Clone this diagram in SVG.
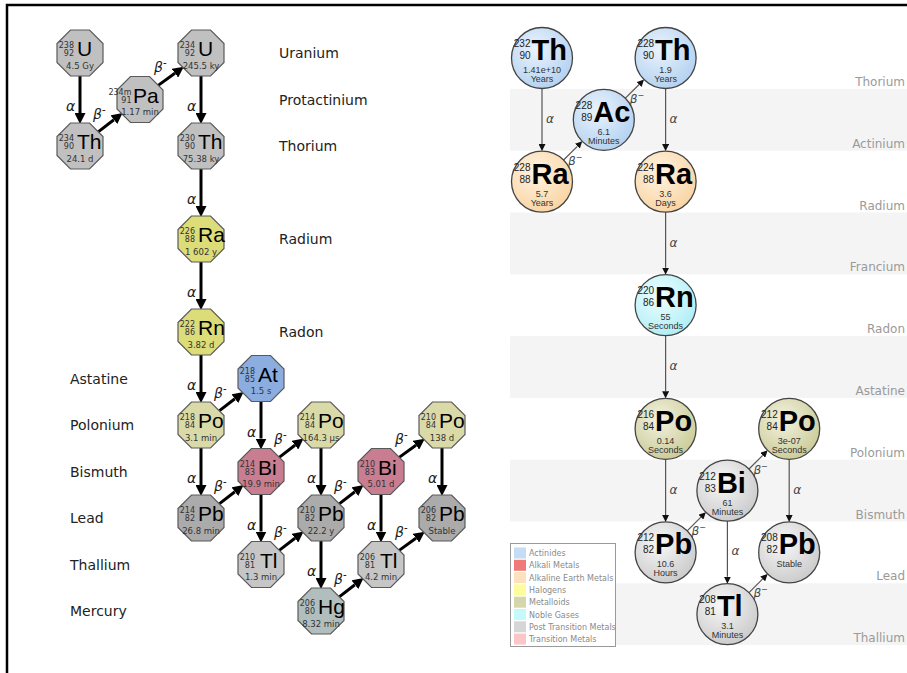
<svg xmlns="http://www.w3.org/2000/svg" width="907" height="673" viewBox="0 0 907 673">
<style>
.o{stroke:#5a5a5a;stroke-width:1.2}
.gy{fill:#c0c0c0}.pb{fill:#ababab}.tl{fill:#c6c6c6}.ye{fill:#dcdc78}.kh{fill:#dadaa8}.bl{fill:#8cade0}.pk{fill:#c97d91}.hg{fill:#b2bebe}
.num{font-family:"DejaVu Sans",sans-serif;font-size:8px;fill:#333;text-anchor:end}
.sym{font-family:"Liberation Sans",sans-serif;font-size:21px;fill:#000}
.hl{font-family:"DejaVu Sans",sans-serif;font-size:8.5px;fill:#333;text-anchor:middle}
.lab{font-family:"DejaVu Sans",sans-serif;font-size:14px;fill:#222}
.al{font-family:"DejaVu Sans",sans-serif;font-size:14px;font-style:italic;fill:#222}
.la{stroke:#000;stroke-width:3;fill:none}
.c{stroke:#444;stroke-width:1.3}
.rn{font-family:"Liberation Sans",sans-serif;font-size:10px;fill:#222;text-anchor:end}
.rs{font-family:"Liberation Sans",sans-serif;font-size:29px;font-weight:bold;fill:#000}
.rh{font-family:"Liberation Sans",sans-serif;font-size:9px;fill:#333;text-anchor:middle}
.ra{stroke:#555;stroke-width:1.2;fill:none}
.ral{font-family:"DejaVu Sans",sans-serif;font-size:12px;font-style:italic;fill:#444}
.row{font-family:"DejaVu Sans",sans-serif;font-size:12px;fill:#9a9a9a;text-anchor:end}
.band{fill:#f4f4f4}
.lg{font-family:"DejaVu Sans",sans-serif;font-size:8px;fill:#8a8a8a}
</style>
<defs>
<polygon id="oct" points="-9.53,-23 9.53,-23 23,-9.53 23,9.53 9.53,23 -9.53,23 -23,9.53 -23,-9.53"/>
<marker id="big" markerUnits="userSpaceOnUse" markerWidth="11" markerHeight="11" viewBox="0 0 10 10" refX="0" refY="5" orient="auto"><path d="M0,0 L10,5 L0,10 z" fill="#000"/></marker>
<marker id="sm" markerUnits="userSpaceOnUse" markerWidth="7" markerHeight="7" viewBox="0 0 10 10" refX="0" refY="5" orient="auto"><path d="M0,0 L10,5 L0,10 z" fill="#111"/></marker>
<radialGradient id="gB" cx="40%" cy="35%" r="65%"><stop offset="0" stop-color="#eaf3fc"/><stop offset="1" stop-color="#b6d3f1"/></radialGradient>
<radialGradient id="gO" cx="40%" cy="35%" r="65%"><stop offset="0" stop-color="#fff3e2"/><stop offset="1" stop-color="#f9d6a6"/></radialGradient>
<radialGradient id="gC" cx="40%" cy="35%" r="65%"><stop offset="0" stop-color="#eeffff"/><stop offset="1" stop-color="#b2eef6"/></radialGradient>
<radialGradient id="gK" cx="40%" cy="35%" r="65%"><stop offset="0" stop-color="#f2f2e0"/><stop offset="1" stop-color="#cdcd9c"/></radialGradient>
<radialGradient id="gG" cx="40%" cy="35%" r="65%"><stop offset="0" stop-color="#f8f8f8"/><stop offset="1" stop-color="#cdcdcd"/></radialGradient>
</defs>
<rect width="907" height="673" fill="#fff"/>
<path d="M7,673 V5 H907" fill="none" stroke="#000" stroke-width="2.5"/>

<!-- right panel bands and row labels -->
<g id="bands">
<rect class="band" x="510" y="88.9" width="397" height="61.8"/>
<rect class="band" x="510" y="212.5" width="397" height="61.8"/>
<rect class="band" x="510" y="336.1" width="397" height="61.8"/>
<rect class="band" x="510" y="459.7" width="397" height="61.8"/>
<rect class="band" x="510" y="583.3" width="397" height="61.8"/>
<text class="row" x="905" y="85.9">Thorium</text>
<text class="row" x="905" y="147.7">Actinium</text>
<text class="row" x="905" y="209.5">Radium</text>
<text class="row" x="905" y="271.3">Francium</text>
<text class="row" x="905" y="333.1">Radon</text>
<text class="row" x="905" y="394.9">Astatine</text>
<text class="row" x="905" y="456.7">Polonium</text>
<text class="row" x="905" y="518.5">Bismuth</text>
<text class="row" x="905" y="580.3">Lead</text>
<text class="row" x="905" y="642.1">Thallium</text>
</g>

<!-- left panel element labels -->
<g id="labels">
<text class="lab" x="279" y="58">Uranium</text>
<text class="lab" x="279" y="104.5">Protactinium</text>
<text class="lab" x="279" y="151">Thorium</text>
<text class="lab" x="279" y="244">Radium</text>
<text class="lab" x="279" y="337">Radon</text>
<text class="lab" x="70" y="383.5">Astatine</text>
<text class="lab" x="70" y="430">Polonium</text>
<text class="lab" x="70" y="476.5">Bismuth</text>
<text class="lab" x="70" y="523">Lead</text>
<text class="lab" x="70" y="569.5">Thallium</text>
<text class="lab" x="70" y="616">Mercury</text>
</g>

<g id="connectors">
<g marker-end="url(#big)" class="la">
<line x1="80" y1="76" x2="80" y2="113"/>
<line x1="201" y1="76" x2="201" y2="113"/>
<line x1="201" y1="169" x2="201" y2="206"/>
<line x1="201" y1="262" x2="201" y2="299"/>
<line x1="201" y1="355" x2="201" y2="392"/>
<line x1="201" y1="448" x2="201" y2="485"/>
<line x1="261" y1="401.5" x2="261" y2="438.5"/>
<line x1="261" y1="494.5" x2="261" y2="531.5"/>
<line x1="321" y1="448" x2="321" y2="485"/>
<line x1="321" y1="541" x2="321" y2="578"/>
<line x1="381" y1="494.5" x2="381" y2="531.5"/>
<line x1="442" y1="448" x2="442" y2="485"/>
<line x1="98.2" y1="131.9" x2="113.9" y2="119.7"/>
<line x1="158.2" y1="85.4" x2="174.9" y2="73.2"/>
<line x1="219.2" y1="410.9" x2="234.9" y2="398.7"/>
<line x1="219.2" y1="503.9" x2="234.9" y2="491.7"/>
<line x1="279.2" y1="457.4" x2="294.9" y2="445.2"/>
<line x1="279.2" y1="550.4" x2="294.9" y2="538.2"/>
<line x1="339.2" y1="503.9" x2="354.9" y2="491.7"/>
<line x1="399.2" y1="457.4" x2="415.9" y2="445.2"/>
<line x1="339.2" y1="596.9" x2="354.9" y2="584.7"/>
<line x1="399.2" y1="550.4" x2="415.9" y2="538.2"/>
</g>
<text class="al" x="66" y="111">α</text>
<text class="al" x="187" y="111">α</text>
<text class="al" x="187" y="204">α</text>
<text class="al" x="187" y="297">α</text>
<text class="al" x="187" y="390">α</text>
<text class="al" x="187" y="483">α</text>
<text class="al" x="247" y="436.5">α</text>
<text class="al" x="247" y="529.5">α</text>
<text class="al" x="307" y="483">α</text>
<text class="al" x="307" y="576">α</text>
<text class="al" x="367" y="529.5">α</text>
<text class="al" x="428" y="483">α</text>
<text class="al" x="93" y="118.5">β<tspan dy="-6" font-size="10">-</tspan></text>
<text class="al" x="154" y="72">β<tspan dy="-6" font-size="10">-</tspan></text>
<text class="al" x="214" y="397.5">β<tspan dy="-6" font-size="10">-</tspan></text>
<text class="al" x="214" y="490.5">β<tspan dy="-6" font-size="10">-</tspan></text>
<text class="al" x="274" y="444">β<tspan dy="-6" font-size="10">-</tspan></text>
<text class="al" x="274" y="537">β<tspan dy="-6" font-size="10">-</tspan></text>
<text class="al" x="334" y="490.5">β<tspan dy="-6" font-size="10">-</tspan></text>
<text class="al" x="395" y="444">β<tspan dy="-6" font-size="10">-</tspan></text>
<text class="al" x="334" y="583.5">β<tspan dy="-6" font-size="10">-</tspan></text>
<text class="al" x="395" y="537">β<tspan dy="-6" font-size="10">-</tspan></text>

<g marker-end="url(#sm)" class="ra">
<line x1="542" y1="88.5" x2="542" y2="144.1"/>
<line x1="665.6" y1="88.5" x2="665.6" y2="144.1"/>
<line x1="665.6" y1="212.1" x2="665.6" y2="267.7"/>
<line x1="665.6" y1="335.7" x2="665.6" y2="391.3"/>
<line x1="665.6" y1="459.3" x2="665.6" y2="514.9"/>
<line x1="789.2" y1="459.3" x2="789.2" y2="514.9"/>
<line x1="727.4" y1="521.1" x2="727.4" y2="576.7"/>
<line x1="563.6" y1="160" x2="577.3" y2="146.3"/>
<line x1="625.4" y1="98.2" x2="639.1" y2="84.5"/>
<line x1="687.2" y1="530.8" x2="700.9" y2="517.1"/>
<line x1="749" y1="469" x2="762.7" y2="455.3"/>
<line x1="749" y1="592.6" x2="762.7" y2="578.9"/>
</g>
<text class="ral" x="546" y="123">α</text>
<text class="ral" x="669.6" y="123">α</text>
<text class="ral" x="669.6" y="246.5">α</text>
<text class="ral" x="669.6" y="370">α</text>
<text class="ral" x="669.6" y="493.5">α</text>
<text class="ral" x="793.2" y="493.5">α</text>
<text class="ral" x="731.4" y="555">α</text>
<text class="ral" x="568" y="164.6" font-size="11">β<tspan dy="-5" font-size="8">−</tspan></text>
<text class="ral" x="629.8" y="102.8" font-size="11">β<tspan dy="-5" font-size="8">−</tspan></text>
<text class="ral" x="691.6" y="535.4" font-size="11">β<tspan dy="-5" font-size="8">−</tspan></text>
<text class="ral" x="753.4" y="473.6" font-size="11">β<tspan dy="-5" font-size="8">−</tspan></text>
<text class="ral" x="753.4" y="597.2" font-size="11">β<tspan dy="-5" font-size="8">−</tspan></text>
</g>

<!-- left panel nodes (uranium series) -->
<g id="u238" transform="translate(80,53)"><use href="#oct" class="o gy"/><text class="num" x="-6" y="-5">238</text><text class="num" x="-6" y="3">92</text><text class="sym" x="-3" y="3">U</text><text class="hl" y="15.5">4.5 Gy</text></g>
<g id="th234" transform="translate(80,146)"><use href="#oct" class="o gy"/><text class="num" x="-6" y="-5">234</text><text class="num" x="-6" y="3">90</text><text class="sym" x="-3" y="3">Th</text><text class="hl" y="15.5">24.1 d</text></g>
<g id="pa234m" transform="translate(140,99.5)"><use href="#oct" class="o gy"/><text class="num" x="-8.5" y="-5">234m</text><text class="num" x="-8.5" y="3">91</text><text class="sym" x="-7" y="3">Pa</text><text class="hl" y="15.5">1.17 min</text></g>
<g id="u234" transform="translate(201,53)"><use href="#oct" class="o gy"/><text class="num" x="-6" y="-5">234</text><text class="num" x="-6" y="3">92</text><text class="sym" x="-3" y="3">U</text><text class="hl" y="15.5">245.5 ky</text></g>
<g id="th230" transform="translate(201,146)"><use href="#oct" class="o gy"/><text class="num" x="-6" y="-5">230</text><text class="num" x="-6" y="3">90</text><text class="sym" x="-3" y="3">Th</text><text class="hl" y="15.5">75.38 ky</text></g>
<g id="ra226" transform="translate(201,239)"><use href="#oct" class="o ye"/><text class="num" x="-6" y="-5">226</text><text class="num" x="-6" y="3">88</text><text class="sym" x="-3" y="3">Ra</text><text class="hl" y="15.5">1 602 y</text></g>
<g id="rn222" transform="translate(201,332)"><use href="#oct" class="o ye"/><text class="num" x="-6" y="-5">222</text><text class="num" x="-6" y="3">86</text><text class="sym" x="-3" y="3">Rn</text><text class="hl" y="15.5">3.82 d</text></g>
<g id="po218" transform="translate(201,425)"><use href="#oct" class="o kh"/><text class="num" x="-6" y="-5">218</text><text class="num" x="-6" y="3">84</text><text class="sym" x="-3" y="3">Po</text><text class="hl" y="15.5">3.1 min</text></g>
<g id="at218" transform="translate(261,378.5)"><use href="#oct" class="o bl"/><text class="num" x="-6" y="-5">218</text><text class="num" x="-6" y="3">85</text><text class="sym" x="-3" y="3">At</text><text class="hl" y="15.5">1.5 s</text></g>
<g id="pb214" transform="translate(201,518)"><use href="#oct" class="o pb"/><text class="num" x="-6" y="-5">214</text><text class="num" x="-6" y="3">82</text><text class="sym" x="-3" y="3">Pb</text><text class="hl" y="15.5">26.8 min</text></g>
<g id="bi214" transform="translate(261,471.5)"><use href="#oct" class="o pk"/><text class="num" x="-6" y="-5">214</text><text class="num" x="-6" y="3">83</text><text class="sym" x="-3" y="3">Bi</text><text class="hl" y="15.5">19.9 min</text></g>
<g id="po214" transform="translate(321,425)"><use href="#oct" class="o kh"/><text class="num" x="-6" y="-5">214</text><text class="num" x="-6" y="3">84</text><text class="sym" x="-3" y="3">Po</text><text class="hl" y="15.5">164.3 μs</text></g>
<g id="tl210" transform="translate(261,564.5)"><use href="#oct" class="o tl"/><text class="num" x="-6" y="-5">210</text><text class="num" x="-6" y="3">81</text><text class="sym" x="-1" y="3">Tl</text><text class="hl" y="15.5">1.3 min</text></g>
<g id="pb210" transform="translate(321,518)"><use href="#oct" class="o pb"/><text class="num" x="-6" y="-5">210</text><text class="num" x="-6" y="3">82</text><text class="sym" x="-3" y="3">Pb</text><text class="hl" y="15.5">22.2 y</text></g>
<g id="bi210" transform="translate(381,471.5)"><use href="#oct" class="o pk"/><text class="num" x="-6" y="-5">210</text><text class="num" x="-6" y="3">83</text><text class="sym" x="-3" y="3">Bi</text><text class="hl" y="15.5">5.01 d</text></g>
<g id="hg206" transform="translate(321,611)"><use href="#oct" class="o hg"/><text class="num" x="-6" y="-5">206</text><text class="num" x="-6" y="3">80</text><text class="sym" x="-3" y="3">Hg</text><text class="hl" y="15.5">8.32 min</text></g>
<g id="po210" transform="translate(442,425)"><use href="#oct" class="o kh"/><text class="num" x="-6" y="-5">210</text><text class="num" x="-6" y="3">84</text><text class="sym" x="-3" y="3">Po</text><text class="hl" y="15.5">138 d</text></g>
<g id="tl206" transform="translate(381,564.5)"><use href="#oct" class="o tl"/><text class="num" x="-6" y="-5">206</text><text class="num" x="-6" y="3">81</text><text class="sym" x="-1" y="3">Tl</text><text class="hl" y="15.5">4.2 min</text></g>
<g id="pb206" transform="translate(442,518)"><use href="#oct" class="o pb"/><text class="num" x="-6" y="-5">206</text><text class="num" x="-6" y="3">82</text><text class="sym" x="-3" y="3">Pb</text><text class="hl" y="15.5">Stable</text></g>

<!-- right panel nodes (thorium series) -->
<g id="th232" transform="translate(542,58)"><circle class="c" r="30.5" fill="url(#gB)"/><text class="rn" x="-11.5" y="-11">232</text><text class="rn" x="-11.5" y="1">90</text><text class="rs" x="-10.5" y="2">Th</text><text class="rh" y="15">1.41e+10</text><text class="rh" y="24">Years</text></g>
<g id="ac228" transform="translate(603.8,119.8)"><circle class="c" r="30.5" fill="url(#gB)"/><text class="rn" x="-11.5" y="-11">228</text><text class="rn" x="-11.5" y="1">89</text><text class="rs" x="-10.5" y="2">Ac</text><text class="rh" y="15">6.1</text><text class="rh" y="24">Minutes</text></g>
<g id="ra228" transform="translate(542,181.6)"><circle class="c" r="30.5" fill="url(#gO)"/><text class="rn" x="-11.5" y="-11">228</text><text class="rn" x="-11.5" y="1">88</text><text class="rs" x="-10.5" y="2">Ra</text><text class="rh" y="15">5.7</text><text class="rh" y="24">Years</text></g>
<g id="th228" transform="translate(665.6,58)"><circle class="c" r="30.5" fill="url(#gB)"/><text class="rn" x="-11.5" y="-11">228</text><text class="rn" x="-11.5" y="1">90</text><text class="rs" x="-10.5" y="2">Th</text><text class="rh" y="15">1.9</text><text class="rh" y="24">Years</text></g>
<g id="ra224" transform="translate(665.6,181.6)"><circle class="c" r="30.5" fill="url(#gO)"/><text class="rn" x="-11.5" y="-11">224</text><text class="rn" x="-11.5" y="1">88</text><text class="rs" x="-10.5" y="2">Ra</text><text class="rh" y="15">3.6</text><text class="rh" y="24">Days</text></g>
<g id="rn220" transform="translate(665.6,305.2)"><circle class="c" r="30.5" fill="url(#gC)"/><text class="rn" x="-11.5" y="-11">220</text><text class="rn" x="-11.5" y="1">86</text><text class="rs" x="-10.5" y="2">Rn</text><text class="rh" y="15">55</text><text class="rh" y="24">Seconds</text></g>
<g id="po216" transform="translate(665.6,428.8)"><circle class="c" r="30.5" fill="url(#gK)"/><text class="rn" x="-11.5" y="-11">216</text><text class="rn" x="-11.5" y="1">84</text><text class="rs" x="-10.5" y="2">Po</text><text class="rh" y="15">0.14</text><text class="rh" y="24">Seconds</text></g>
<g id="bi212" transform="translate(727.4,490.6)"><circle class="c" r="30.5" fill="url(#gG)"/><text class="rn" x="-11.5" y="-11">212</text><text class="rn" x="-11.5" y="1">83</text><text class="rs" x="-10.5" y="2">Bi</text><text class="rh" y="15">61</text><text class="rh" y="24">Minutes</text></g>
<g id="pb212" transform="translate(665.6,552.4)"><circle class="c" r="30.5" fill="url(#gG)"/><text class="rn" x="-11.5" y="-11">212</text><text class="rn" x="-11.5" y="1">82</text><text class="rs" x="-10.5" y="2">Pb</text><text class="rh" y="15">10.6</text><text class="rh" y="24">Hours</text></g>
<g id="po212" transform="translate(789.2,428.8)"><circle class="c" r="30.5" fill="url(#gK)"/><text class="rn" x="-11.5" y="-11">212</text><text class="rn" x="-11.5" y="1">84</text><text class="rs" x="-10.5" y="2">Po</text><text class="rh" y="15">3e-07</text><text class="rh" y="24">Seconds</text></g>
<g id="pb208" transform="translate(789.2,552.4)"><circle class="c" r="30.5" fill="url(#gG)"/><text class="rn" x="-11.5" y="-11">208</text><text class="rn" x="-11.5" y="1">82</text><text class="rs" x="-10.5" y="2">Pb</text><text class="rh" y="15">Stable</text></g>
<g id="tl208" transform="translate(727.4,614.2)"><circle class="c" r="30.5" fill="url(#gG)"/><text class="rn" x="-11.5" y="-11">208</text><text class="rn" x="-11.5" y="1">81</text><text class="rs" x="-10.5" y="2">Tl</text><text class="rh" y="15">3.1</text><text class="rh" y="24">Minutes</text></g>

<!-- legend -->
<g id="legend">
<rect x="510.5" y="543.5" width="105" height="103" fill="#fff" stroke="#9a9a9a"/>
<rect x="514" y="547.5" width="12" height="11" fill="#c6dcf4"/><text class="lg" x="529" y="556">Actinides</text>
<rect x="514" y="559.8" width="12" height="11" fill="#f07a7a"/><text class="lg" x="529" y="568.3">Alkali Metals</text>
<rect x="514" y="572.1" width="12" height="11" fill="#fde0bc"/><text class="lg" x="529" y="580.6">Alkaline Earth Metals</text>
<rect x="514" y="584.4" width="12" height="11" fill="#fdfd9c"/><text class="lg" x="529" y="592.9">Halogens</text>
<rect x="514" y="596.7" width="12" height="11" fill="#d6d6ac"/><text class="lg" x="529" y="605.2">Metalloids</text>
<rect x="514" y="609" width="12" height="11" fill="#c6fafa"/><text class="lg" x="529" y="617.5">Noble Gases</text>
<rect x="514" y="621.3" width="12" height="11" fill="#d6d6d6"/><text class="lg" x="529" y="629.8">Post Transition Metals</text>
<rect x="514" y="633.6" width="12" height="11" fill="#fac6c6"/><text class="lg" x="529" y="642.1">Transition Metals</text>
</g>
</svg>
